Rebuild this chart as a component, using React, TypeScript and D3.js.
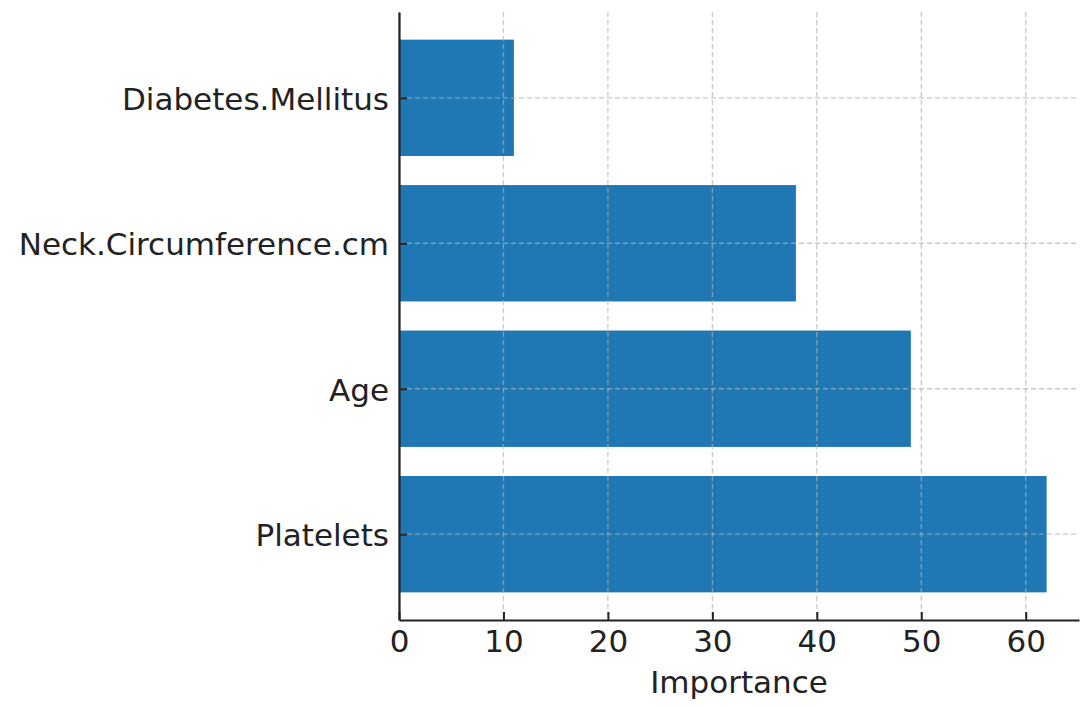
import { useEffect, useRef } from 'react';
import * as d3 from 'd3';

const features = ['Platelets', 'Age', 'Neck.Circumference.cm', 'Diabetes.Mellitus'];
const importance = [62, 49, 38, 11];
const xTicks = [0, 10, 20, 30, 40, 50, 60];

const App = () => {
  const svgRef = useRef<SVGSVGElement>(null);

  useEffect(() => {
    const width = 1088;
    const height = 707;
    const margin = { top: 12, right: 9, bottom: 87, left: 399 };
    const w = width - margin.left - margin.right;
    const h = height - margin.top - margin.bottom;
    const font = 'DejaVu Sans, sans-serif';
    const fs = '31px';

    if (!svgRef.current) return;
    const root = d3.select(svgRef.current);
    root.selectAll('*').remove();
    root.attr('width', width).attr('height', height);

    const svg = root.append('g').attr('transform', `translate(${margin.left},${margin.top})`);

    const x = d3.scaleLinear().domain([0, 65.1]).range([0, w]);
    // matplotlib barh: index 0 at bottom, bar height 0.8, 5% margins
    const y = d3.scaleLinear().domain([-0.59, features.length - 1 + 0.59]).range([h, 0]);

    const data = features.map((f, i) => ({ f, v: importance[i], i }));

    svg.selectAll('rect.bar')
      .data(data)
      .enter()
      .append('rect')
      .attr('class', 'bar')
      .attr('x', x(0))
      .attr('y', d => y(d.i + 0.4))
      .attr('width', d => x(d.v) - x(0))
      .attr('height', d => y(d.i - 0.4) - y(d.i + 0.4))
      .attr('fill', '#1f77b4');

    // grid on top of bars
    const grid = svg.append('g');
    grid.selectAll('line.vg')
      .data(xTicks)
      .enter()
      .append('line')
      .attr('x1', d => x(d)).attr('x2', d => x(d))
      .attr('y1', 0).attr('y2', h)
      .attr('stroke', '#b0b0b0').attr('stroke-opacity', 0.7)
      .attr('stroke-width', 1.3).attr('stroke-dasharray', '5,3');
    grid.selectAll('line.hg')
      .data(data)
      .enter()
      .append('line')
      .attr('x1', 0).attr('x2', w)
      .attr('y1', d => y(d.i)).attr('y2', d => y(d.i))
      .attr('stroke', '#b0b0b0').attr('stroke-opacity', 0.7)
      .attr('stroke-width', 1.3).attr('stroke-dasharray', '5,3');

    const xAxis = svg.append('g')
      .attr('transform', `translate(0,${h})`)
      .call(d3.axisBottom(x).tickValues(xTicks).tickSize(-8).tickPadding(10).tickSizeOuter(0));
    xAxis.select('.domain').attr('stroke', '#222').attr('stroke-width', 2.2);
    xAxis.selectAll('.tick line').attr('stroke', '#222').attr('stroke-width', 2);
    xAxis.selectAll('.tick text').attr('fill', '#222').style('font-family', font).style('font-size', fs);

    const yAxis = svg.append('g')
      .call(d3.axisLeft(y).tickValues(data.map(d => d.i)).tickFormat(i => features[+i]).tickSize(-8).tickPadding(10).tickSizeOuter(0));
    yAxis.select('.domain').attr('stroke', '#222').attr('stroke-width', 2.2);
    yAxis.selectAll('.tick line').attr('stroke', '#222').attr('stroke-width', 2);
    yAxis.selectAll('.tick text').attr('fill', '#222').attr('dy', '0.37em')
      .style('font-family', font).style('font-size', fs);

    svg.append('text')
      .attr('x', w / 2)
      .attr('y', h + 73)
      .attr('text-anchor', 'middle')
      .attr('fill', '#222')
      .style('font-family', font)
      .style('font-size', fs)
      .text('Importance');
  }, []);

  return <svg ref={svgRef} style={{ position: 'absolute', left: 0, top: 0 }}></svg>;
};

export default App;
